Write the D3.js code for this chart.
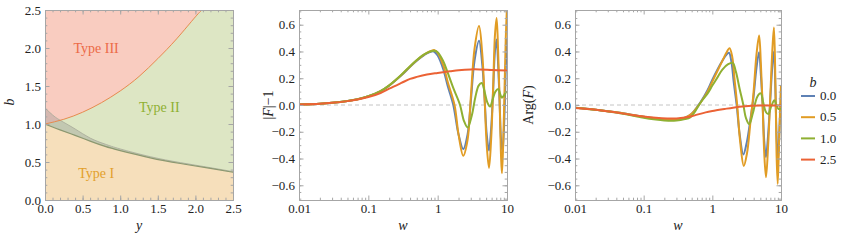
<!DOCTYPE html>
<html>
<head>
<meta charset="utf-8">
<script src="https://cdn.jsdelivr.net/npm/d3@7"></script>
<style>
  body { margin: 0; background: #fff; }
  svg text { font-family: "Liberation Serif", "Times New Roman", serif; }
</style>
</head>
<body>
<svg id="fig" width="843" height="240"></svg>
<script>

// ---- left panel: region boundaries (y, b) ----
var regionY      = [0, 0.1, 0.2, 0.4, 0.6, 0.8, 1.0, 1.4, 1.8, 2.2, 2.5];
var typeIEdge    = [1.0, 0.96, 0.922, 0.85, 0.775, 0.705, 0.65, 0.555, 0.48, 0.415, 0.365];
var grayEdge     = [1.21, 1.12, 1.05, 0.935, 0.815, 0.735, 0.672, 0.57, 0.492, 0.425, 0.373];
var typeIIIEdgeY = [0, 0.25, 0.5, 0.75, 1.0, 1.25, 1.5, 1.75, 2.0, 2.09];
var typeIIIEdgeB = [1.0, 1.062, 1.155, 1.28, 1.435, 1.625, 1.86, 2.12, 2.41, 2.5];
var regionLabels = [
  {text: 'Type III', y: 0.68, b: 1.94, color: '#ec6a47'},
  {text: 'Type II',  y: 1.52, b: 1.16, color: '#8fb032'},
  {text: 'Type I',   y: 0.68, b: 0.29, color: '#e39f2c'}
];

// ---- series: b values and colours ----
var bValues = ['0.0', '0.5', '1.0', '2.5'];
var colors  = ['#5e81b5', '#e19c24', '#8fb032', '#eb6235'];

// |F| - 1 against w
var absF = [
  // b = 0.0
  [[0.01,0.003],[0.02,0.009],[0.03,0.016],[0.05,0.03],[0.07,0.043],[0.1,0.065],[0.15,0.103],[0.2,0.145],
   [0.3,0.222],[0.4,0.285],[0.5,0.33],[0.6,0.362],[0.7,0.385],[0.8,0.398],[0.88,0.4],[1.0,0.37],[1.2,0.27],
   [1.4,0.14],[1.68,0.0],[2.0,-0.22],[2.34,-0.33],[2.7,-0.22],[3.0,0.02],[3.4,0.33],[3.95,0.48],[4.4,0.3],
   [4.75,0.05],[5.1,-0.22],[5.5,-0.34],[5.9,-0.18],[6.3,0.1],[6.7,0.4],[7.08,0.49],[7.45,0.3],[7.85,0.0],
   [8.2,-0.26],[8.6,-0.35],[9.0,-0.2],[9.4,0.1],[9.8,0.42],[10,0.5]],
  // b = 0.5
  [[0.01,0.003],[0.02,0.009],[0.03,0.016],[0.05,0.03],[0.07,0.043],[0.1,0.065],[0.15,0.103],[0.2,0.146],
   [0.3,0.224],[0.4,0.288],[0.5,0.334],[0.6,0.367],[0.7,0.39],[0.8,0.404],[0.9,0.41],[1.0,0.39],[1.2,0.3],
   [1.4,0.17],[1.75,0.0],[2.0,-0.22],[2.34,-0.38],[2.7,-0.26],[3.0,0.05],[3.4,0.42],[3.95,0.59],[4.4,0.38],
   [4.75,0.05],[5.1,-0.3],[5.5,-0.47],[5.9,-0.26],[6.3,0.12],[6.7,0.52],[7.08,0.65],[7.45,0.4],[7.85,0.0],
   [8.2,-0.38],[8.45,-0.51],[8.8,-0.3],[9.2,0.1],[9.6,0.5],[10,0.74]],
  // b = 1.0
  [[0.01,0.003],[0.02,0.009],[0.03,0.016],[0.05,0.03],[0.07,0.043],[0.1,0.065],[0.15,0.104],[0.2,0.147],
   [0.3,0.226],[0.4,0.29],[0.5,0.336],[0.6,0.369],[0.7,0.39],[0.8,0.402],[0.9,0.405],[1.0,0.395],[1.2,0.33],
   [1.4,0.24],[1.7,0.12],[2.1,0.0],[2.4,-0.12],[2.71,-0.168],[3.1,-0.08],[3.5,0.06],[3.9,0.145],[4.32,0.165],
   [4.8,0.09],[5.2,0.02],[5.7,-0.012],[6.2,0.04],[6.8,0.1],[7.5,0.12],[8.0,0.08],[8.4,0.055],[9.0,0.07],
   [9.5,0.09],[10,0.1]],
  // b = 2.5
  [[0.01,0.003],[0.02,0.009],[0.03,0.016],[0.05,0.029],[0.07,0.041],[0.1,0.06],[0.15,0.09],[0.2,0.122],
   [0.3,0.165],[0.4,0.195],[0.5,0.21],[0.7,0.228],[1.0,0.24],[1.5,0.252],[2,0.26],[3,0.266],[4,0.266],
   [6,0.262],[10,0.257]]
];

// Arg(F) against w
var argF = [
  // b = 0.0
  [[0.01,-0.02],[0.02,-0.035],[0.04,-0.055],[0.07,-0.075],[0.1,-0.088],[0.15,-0.1],[0.2,-0.108],[0.25,-0.11],
   [0.3,-0.107],[0.4,-0.095],[0.5,-0.065],[0.6,-0.015],[0.7,0.035],[0.85,0.11],[1.0,0.19],[1.2,0.27],
   [1.4,0.33],[1.6,0.375],[1.75,0.39],[1.9,0.32],[2.05,0.17],[2.26,0.0],[2.5,-0.22],[2.83,-0.37],[3.2,-0.27],
   [3.6,-0.1],[3.96,0.05],[4.4,0.28],[4.79,0.395],[5.1,0.22],[5.4,0.0],[5.7,-0.27],[6.03,-0.39],[6.5,-0.22],
   [7.0,0.05],[7.5,0.3],[7.9,0.4],[8.3,0.1],[8.7,-0.28],[9.1,-0.4],[9.5,-0.18],[10,0.1]],
  // b = 0.5
  [[0.01,-0.02],[0.02,-0.035],[0.04,-0.055],[0.07,-0.075],[0.1,-0.088],[0.15,-0.1],[0.2,-0.108],[0.25,-0.11],
   [0.3,-0.107],[0.4,-0.095],[0.5,-0.066],[0.6,-0.018],[0.7,0.03],[0.85,0.1],[1.0,0.175],[1.2,0.26],
   [1.4,0.33],[1.6,0.39],[1.78,0.425],[1.95,0.36],[2.1,0.2],[2.3,0.0],[2.55,-0.28],[2.87,-0.455],[3.2,-0.36],
   [3.6,-0.12],[3.96,0.08],[4.4,0.38],[4.8,0.52],[5.1,0.3],[5.4,0.0],[5.7,-0.36],[6.05,-0.54],[6.5,-0.3],
   [7.0,0.08],[7.5,0.42],[7.9,0.58],[8.3,0.15],[8.6,-0.35],[8.95,-0.59],[9.4,-0.25],[10,0.15]],
  // b = 1.0
  [[0.01,-0.02],[0.02,-0.036],[0.04,-0.057],[0.07,-0.08],[0.1,-0.095],[0.15,-0.108],[0.2,-0.115],[0.25,-0.118],
   [0.3,-0.116],[0.4,-0.105],[0.47,-0.095],[0.55,-0.055],[0.63,-0.005],[0.7,0.03],[0.85,0.085],[1.0,0.145],
   [1.2,0.21],[1.4,0.265],[1.7,0.305],[1.98,0.315],[2.2,0.25],[2.5,0.12],[2.83,0.0],[3.1,-0.1],[3.45,-0.143],
   [3.9,-0.06],[4.5,0.06],[5.06,0.087],[5.5,0.02],[6.0,-0.05],[6.53,-0.068],[7.2,-0.01],[8.0,0.035],
   [8.6,0.0],[9.2,-0.03],[10,-0.025]],
  // b = 2.5
  [[0.01,-0.022],[0.02,-0.035],[0.036,-0.053],[0.06,-0.07],[0.1,-0.086],[0.15,-0.095],[0.22,-0.1],[0.3,-0.1],
   [0.4,-0.094],[0.5,-0.084],[0.6,-0.072],[0.8,-0.055],[1.0,-0.045],[1.5,-0.03],[2,-0.02],[3,-0.01],
   [5,-0.004],[7,-0.003],[10,-0.004]]
];

// ticks
var regionTicks = [0, 0.5, 1.0, 1.5, 2.0, 2.5];
var regionMinor = d3.range(0, 25.01, 1).map(function(d) { return d / 10; });
var wTicks = [0.01, 0.1, 1, 10];
var wTickLabels = ['0.01', '0.1', '1', '10'];
var wMinor = [0.01, 0.1, 1].reduce(function(a, dec) {
  return a.concat(d3.range(2, 10).map(function(k) { return k * dec; }));
}, []);
var fTicks = [-0.6, -0.4, -0.2, 0.0, 0.2, 0.4, 0.6];
var fMinor = d3.range(-14, 15).map(function(d) { return d * 0.05; });

var svg = d3.select('#fig');
var frameColor = '#a6a6a6';
var serif = '"Liberation Serif", "Times New Roman", serif';

// draws a Mathematica style frame: ticks on four sides pointing in
function addFrame(g, x, y, xMajor, xMinor, yMajor, yMinor, xFmt, yFmt) {
  var xr = x.range(), yr = y.range();
  var none = function() { return ''; };
  function put(axis, vals, size, fmt, tr) {
    var a = g.append('g')
      .attr('transform', tr)
      .attr('font-family', serif)
      .call(axis.tickValues(vals).tickSizeInner(-size).tickSizeOuter(0)
        .tickPadding(fmt ? 4 : 0).tickFormat(fmt || none));
    a.attr('font-family', serif);
    a.selectAll('.domain').attr('stroke', frameColor);
    a.selectAll('.tick line').attr('stroke', frameColor);
    a.selectAll('text').attr('font-size', 13).attr('fill', '#222');
    return a;
  }
  put(d3.axisBottom(x), xMinor, 2.3, null, 'translate(0,' + yr[0] + ')');
  put(d3.axisTop(x), xMinor, 2.3, null, 'translate(0,' + yr[1] + ')');
  put(d3.axisLeft(y), yMinor, 2.3, null, 'translate(' + xr[0] + ',0)');
  put(d3.axisRight(y), yMinor, 2.3, null, 'translate(' + xr[1] + ',0)');
  put(d3.axisBottom(x), xMajor, 4.5, xFmt, 'translate(0,' + yr[0] + ')');
  put(d3.axisTop(x), xMajor, 4.5, null, 'translate(0,' + yr[1] + ')');
  put(d3.axisLeft(y), yMajor, 4.5, yFmt, 'translate(' + xr[0] + ',0)');
  put(d3.axisRight(y), yMajor, 4.5, null, 'translate(' + xr[1] + ',0)');
}

function italicLabel(g, x, y, parts, rotate) {
  var t = g.append('text')
    .attr('transform', 'translate(' + x + ',' + y + ')' + (rotate ? ' rotate(-90)' : ''))
    .attr('text-anchor', 'middle')
    .attr('font-size', 14)
    .attr('fill', '#222');
  parts.forEach(function(p) {
    t.append('tspan').attr('font-style', p[1] ? 'italic' : 'normal').text(p[0]);
  });
}

// ================= left panel: regions =================
(function() {
  var x = d3.scaleLinear().domain([0, 2.5]).range([45, 233]);
  var y = d3.scaleLinear().domain([0, 2.5]).range([200, 10]);
  var g = svg.append('g');

  g.append('clipPath').attr('id', 'clipL').append('rect')
    .attr('x', x(0)).attr('y', y(2.5)).attr('width', x(2.5) - x(0)).attr('height', y(0) - y(2.5));
  var p = g.append('g').attr('clip-path', 'url(#clipL)');

  var curve = d3.curveNatural;
  var lowPts = regionY.map(function(d, i) { return [d, typeIEdge[i], grayEdge[i]]; });
  var redPts = typeIIIEdgeY.map(function(d, i) { return [d, typeIIIEdgeB[i]]; });

  // Type II everywhere, then the others over it
  p.append('rect').attr('x', x(0)).attr('y', y(2.5))
    .attr('width', x(2.5) - x(0)).attr('height', y(0) - y(2.5)).attr('fill', '#dde6c4');

  p.append('path').datum(redPts)
    .attr('d', d3.area().curve(curve).x(function(d) { return x(d[0]); })
      .y0(function(d) { return y(d[1]); }).y1(y(2.5)))
    .attr('fill', '#f9ccc0');

  p.append('path').datum(lowPts)
    .attr('d', d3.area().curve(curve).x(function(d) { return x(d[0]); })
      .y0(y(0)).y1(function(d) { return y(d[1]); }))
    .attr('fill', '#f6dfbb');

  p.append('path').datum(lowPts)
    .attr('d', d3.area().curve(curve).x(function(d) { return x(d[0]); })
      .y0(function(d) { return y(d[1]); }).y1(function(d) { return y(d[2]); }))
    .attr('fill', '#8c8c8c').attr('fill-opacity', 0.33);

  p.append('path').datum(lowPts)
    .attr('d', d3.line().curve(curve).x(function(d) { return x(d[0]); }).y(function(d) { return y(d[2]); }))
    .attr('fill', 'none').attr('stroke', '#a7aa98').attr('stroke-width', 0.8);

  p.append('path').datum(lowPts)
    .attr('d', d3.line().curve(curve).x(function(d) { return x(d[0]); }).y(function(d) { return y(d[1]); }))
    .attr('fill', 'none').attr('stroke', '#8c9870').attr('stroke-width', 1.2);

  p.append('path').datum(redPts)
    .attr('d', d3.line().curve(curve).x(function(d) { return x(d[0]); }).y(function(d) { return y(d[1]); }))
    .attr('fill', 'none').attr('stroke', '#e78a4e').attr('stroke-width', 1);

  g.selectAll('text.region').data(regionLabels).enter().append('text')
    .attr('class', 'region')
    .attr('x', function(d) { return x(d.y); })
    .attr('y', function(d) { return y(d.b); })
    .attr('text-anchor', 'middle')
    .attr('font-size', 14)
    .attr('fill', function(d) { return d.color; })
    .text(function(d) { return d.text; });

  addFrame(g, x, y, regionTicks, regionMinor, regionTicks, regionMinor,
    d3.format('.1f'), d3.format('.1f'));

  italicLabel(g, 139, 230, [['y', true]], false);
  italicLabel(g, 14, 102, [['b', true]], true);
})();

// ================= middle and right panels =================
function wPanel(left, right, series, clipId, labelX, labelParts) {
  var x = d3.scaleLog().domain([0.01, 10]).range([left, right]);
  var y = d3.scaleLinear().domain([-0.71, 0.71]).range([200, 10]);
  var g = svg.append('g');

  g.append('clipPath').attr('id', clipId).append('rect')
    .attr('x', left).attr('y', 10).attr('width', right - left).attr('height', 190);

  g.append('line')
    .attr('x1', left).attr('x2', right).attr('y1', y(0)).attr('y2', y(0))
    .attr('stroke', '#c4c4c4').attr('stroke-width', 1).attr('stroke-dasharray', '4,3');

  var line = d3.line().curve(d3.curveCatmullRom.alpha(0.5))
    .x(function(d) { return x(d[0]); }).y(function(d) { return y(d[1]); });

  g.append('g').attr('clip-path', 'url(#' + clipId + ')')
    .selectAll('path').data(series).enter().append('path')
    .attr('d', line)
    .attr('fill', 'none')
    .attr('stroke', function(d, i) { return colors[i]; })
    .attr('stroke-width', 2)
    .attr('stroke-linejoin', 'round');

  addFrame(g, x, y, wTicks, wMinor, fTicks, fMinor,
    function(d) { return wTickLabels[wTicks.indexOf(d)]; }, d3.format('.1f'));

  italicLabel(g, (left + right) / 2, 230, [['w', true]], false);
  italicLabel(g, labelX, 105, labelParts, true);
}

wPanel(299, 507, absF, 'clipM', 273, [['|', false], ['F', true], ['|\u22121', false]]);
wPanel(575, 781, argF, 'clipR', 533, [['Arg(', false], ['F', true], [')', false]]);

// ================= legend =================
var leg = svg.append('g');
leg.append('text').attr('x', 813).attr('y', 87).attr('text-anchor', 'middle')
  .attr('font-size', 14).attr('font-style', 'italic').attr('fill', '#222').text('b');
var items = leg.selectAll('g.item').data(bValues).enter().append('g')
  .attr('transform', function(d, i) { return 'translate(0,' + (96 + i * 21.2) + ')'; });
items.append('line').attr('x1', 801).attr('x2', 815)
  .attr('stroke', function(d, i) { return colors[i]; }).attr('stroke-width', 2);
items.append('text').attr('x', 820).attr('y', 0).attr('dy', '0.33em')
  .attr('font-size', 13).attr('fill', '#222').text(function(d) { return d; });

</script>
</body>
</html>
